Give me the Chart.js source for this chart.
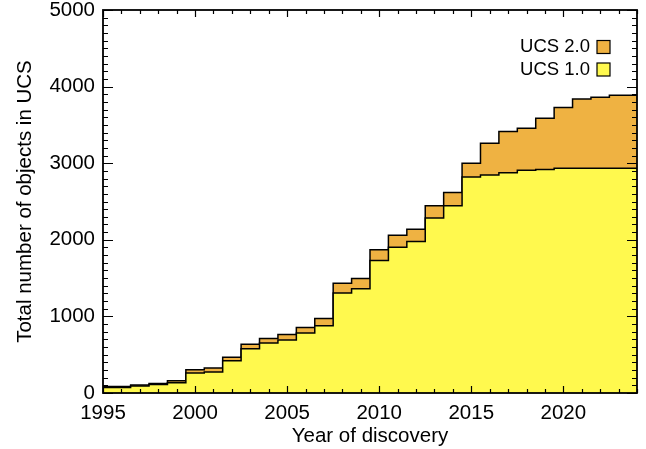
<!DOCTYPE html>
<html>
<head>
<meta charset="utf-8">
<title>UCS objects by year of discovery</title>
<script src="https://cdn.jsdelivr.net/npm/chart.js@4.4.1/dist/chart.umd.min.js"></script>
<style>
    html, body { margin: 0; padding: 0; background: #fff; }
    #wrap { width: 646px; height: 449px; }
</style>
</head>
<body>
<div id="wrap"><canvas id="ucsChart"></canvas></div>
<script>
// Cumulative counts per discovery year
const years = [1995, 1996, 1997, 1998, 1999, 2000, 2001, 2002, 2003, 2004,
               2005, 2006, 2007, 2008, 2009, 2010, 2011, 2012, 2013, 2014,
               2015, 2016, 2017, 2018, 2019, 2020, 2021, 2022, 2023, 2024];
const ucs1Counts = [72, 72, 92, 110, 135, 261, 275, 421, 577, 652,
                    691, 783, 878, 1304, 1362, 1730, 1904, 1978, 2283, 2443,
                    2819, 2847, 2876, 2908, 2919, 2934, 2934, 2934, 2934, 2934];
const ucs2Counts = [85, 85, 105, 125, 160, 304, 326, 468, 637, 713,
                    765, 856, 974, 1432, 1495, 1869, 2061, 2139, 2443, 2617,
                    3000, 3261, 3413, 3456, 3587, 3726, 3839, 3861, 3887, 3887];
const seriesLabels = ['UCS 1.0', 'UCS 2.0'];
const xTickYears = [1995, 2000, 2005, 2010, 2015, 2020];
const yTickValues = [0, 1000, 2000, 3000, 4000, 5000];

const FONT = "'Liberation Sans', Arial, Helvetica, sans-serif";
const YELLOW = '#fff94e';
const ORANGE = '#efb242';

function toPoints(values) {
    return years.map((yr, i) => ({ x: yr, y: values[i] }));
}

/**
 * Box frame with inward major/minor ticks on all four sides
 */
const framePlugin = {
    id: 'frame',
    afterDatasetsDraw(chart) {
        const { ctx, chartArea: a, scales } = chart;
        const xs = scales.x, ys = scales.y;
        ctx.save();
        ctx.strokeStyle = '#000';
        ctx.lineWidth = 1.2;
        ctx.beginPath();
        // x ticks: every year, longer every 5 years
        for (let v = xs.min; v <= xs.max; v++) {
            const px = Math.round(xs.getPixelForValue(v)) + 0.5;
            const len = (v % 5 === 0) ? 7 : 4;
            ctx.moveTo(px, a.bottom); ctx.lineTo(px, a.bottom - len);
            ctx.moveTo(px, a.top); ctx.lineTo(px, a.top + len);
        }
        // y ticks: every 100, longer every 1000
        for (let v = ys.min; v <= ys.max; v += 100) {
            const py = Math.round(ys.getPixelForValue(v)) + 0.5;
            const len = (v % 1000 === 0) ? 10 : 5;
            ctx.moveTo(a.left, py); ctx.lineTo(a.left + len, py);
            ctx.moveTo(a.right, py); ctx.lineTo(a.right - len, py);
        }
        ctx.stroke();
        ctx.lineWidth = 1.8;
        ctx.strokeRect(a.left, a.top, a.right - a.left, a.bottom - a.top);
        ctx.restore();
    }
};

/**
 * Legend in the upper right: text first, swatch after it
 */
const legendPlugin = {
    id: 'ucsLegend',
    afterDraw(chart) {
        const { ctx, chartArea: a } = chart;
        const sets = chart.data.datasets.slice().reverse();
        ctx.save();
        ctx.font = `18.5px ${FONT}`;
        ctx.textAlign = 'right';
        ctx.textBaseline = 'middle';
        sets.forEach((ds, i) => {
            const cy = a.top + 37 + i * 22.5;
            const bx = a.right - 40;
            ctx.fillStyle = '#000';
            ctx.fillText(ds.label, bx - 7, cy);
            ctx.fillStyle = ds.backgroundColor;
            ctx.fillRect(bx, cy - 6.5, 13, 13);
            ctx.lineWidth = 1.2;
            ctx.strokeStyle = '#000';
            ctx.strokeRect(bx, cy - 6.5, 13, 13);
        });
        ctx.restore();
    }
};

const ctx = document.getElementById('ucsChart');
new Chart(ctx, {
    type: 'line',
    data: {
        datasets: [
            {
                label: seriesLabels[0],
                data: toPoints(ucs1Counts),
                stepped: 'middle',
                fill: 'origin',
                backgroundColor: YELLOW,
                borderColor: '#000',
                borderWidth: 1.5,
                pointRadius: 0,
            },
            {
                label: seriesLabels[1],
                data: toPoints(ucs2Counts),
                stepped: 'middle',
                fill: '-1',
                backgroundColor: ORANGE,
                borderColor: '#000',
                borderWidth: 1.5,
                pointRadius: 0,
            },
        ],
    },
    options: {
        responsive: true,
        maintainAspectRatio: false,
        animation: false,
        layout: { padding: { left: 13, right: 9, top: 10, bottom: 0 } },
        plugins: {
            legend: { display: false },
            tooltip: { enabled: false },
        },
        scales: {
            x: {
                type: 'linear',
                min: 1995,
                max: 2024,
                afterBuildTicks: (s) => { s.ticks = xTickYears.map(v => ({ value: v })); },
                afterFit: (s) => { s.height = 56; s.paddingLeft = 0; s.paddingRight = 0; },
                grid: { display: false, drawTicks: false },
                border: { display: false },
                ticks: {
                    color: '#000',
                    padding: 8,
                    maxRotation: 0,
                    font: { family: FONT, size: 20.5 },
                    callback: (v) => String(v),
                },
                title: {
                    display: true,
                    text: 'Year of discovery',
                    color: '#000',
                    padding: 0,
                    font: { family: FONT, size: 20.5 },
                },
            },
            y: {
                min: 0,
                max: 5000,
                afterBuildTicks: (s) => { s.ticks = yTickValues.map(v => ({ value: v })); },
                afterFit: (s) => { s.width = 90; s.paddingTop = 0; s.paddingBottom = 0; },
                grid: { display: false, drawTicks: false },
                border: { display: false },
                ticks: {
                    color: '#000',
                    padding: 8,
                    font: { family: FONT, size: 20.5 },
                    callback: (v) => String(v),
                },
                title: {
                    display: true,
                    text: 'Total number of objects in UCS',
                    color: '#000',
                    padding: 0,
                    font: { family: FONT, size: 20.5 },
                },
            },
        },
    },
    plugins: [framePlugin, legendPlugin],
});
</script>
</body>
</html>
